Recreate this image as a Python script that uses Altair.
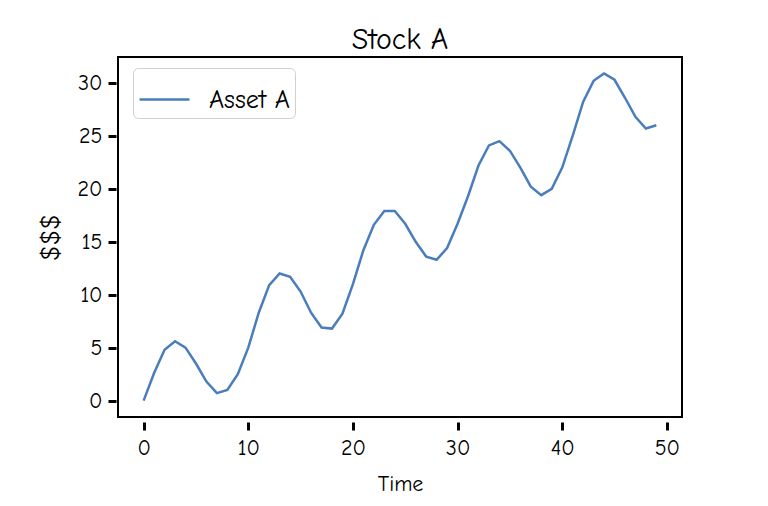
import altair as alt
import pandas as pd

time = list(range(50))
values = [0.0, 2.6, 4.8, 5.6, 5.0, 3.5, 1.8, 0.7, 1.0, 2.5,
          5.0, 8.3, 10.9, 12.0, 11.7, 10.3, 8.3, 6.9, 6.8, 8.2,
          11.0, 14.2, 16.6, 17.9, 17.9, 16.7, 15.0, 13.6, 13.3, 14.4,
          16.7, 19.3, 22.2, 24.1, 24.5, 23.6, 22.0, 20.2, 19.4, 20.0,
          22.0, 25.0, 28.2, 30.2, 30.9, 30.3, 28.6, 26.8, 25.7, 26.0]
series = "Asset A"
title = "Stock A"
x_ticks = [0, 10, 20, 30, 40, 50]
y_ticks = [0, 5, 10, 15, 20, 25, 30]

df = pd.DataFrame({"Time": time, "value": values, "series": [series] * len(time)})

FONT = "Humor Sans, Comic Neue, Comic Sans MS, Lato"

chart = alt.Chart(df).mark_line(strokeWidth=2.5).encode(
    x=alt.X("Time:Q", scale=alt.Scale(domain=[-2.45, 51.45], nice=False, zero=False),
            axis=alt.Axis(values=x_ticks, title="Time", grid=False, domain=False,
                          tickSize=8, tickWidth=3, tickColor="black", offset=5,
                          labelFontSize=22, labelColor="black", labelPadding=7,
                          titleFontSize=22, titleFontWeight="normal", titleColor="black",
                          titlePadding=15, labelFont=FONT, titleFont=FONT)),
    y=alt.Y("value:Q", scale=alt.Scale(domain=[-1.55, 32.45], nice=False, zero=False),
            axis=alt.Axis(values=y_ticks, title="$$$", grid=False, domain=False,
                          tickSize=8, tickWidth=3, tickColor="black", offset=2,
                          labelFontSize=22, labelColor="black", labelPadding=6,
                          titleFontSize=26, titleFontWeight="normal", titleColor="black",
                          titlePadding=14, labelFont=FONT, titleFont=FONT)),
    color=alt.Color("series:N", scale=alt.Scale(domain=[series], range=["#4a7dbb"]),
                    legend=alt.Legend(title=None, orient="none", legendX=15, legendY=11,
                                      symbolType="stroke", symbolSize=2500,
                                      symbolStrokeWidth=2.5, labelFontSize=26,
                                      labelFont=FONT, labelColor="black",
                                      strokeColor="#d0d0d0", fillColor="white",
                                      cornerRadius=5, padding=5, labelOffset=18)),
).properties(
    width=564, height=360,
    title=alt.TitleParams(title, fontSize=30, fontWeight="normal", font=FONT,
                          color="black", offset=2),
    autosize=alt.AutoSizeParams(type="none"),
    padding={"left": 110, "top": 49, "right": 78, "bottom": 81},
).configure_view(stroke="black", strokeWidth=2)

chart.save("out.html", embed_options={"renderer": "svg", "actions": False})
